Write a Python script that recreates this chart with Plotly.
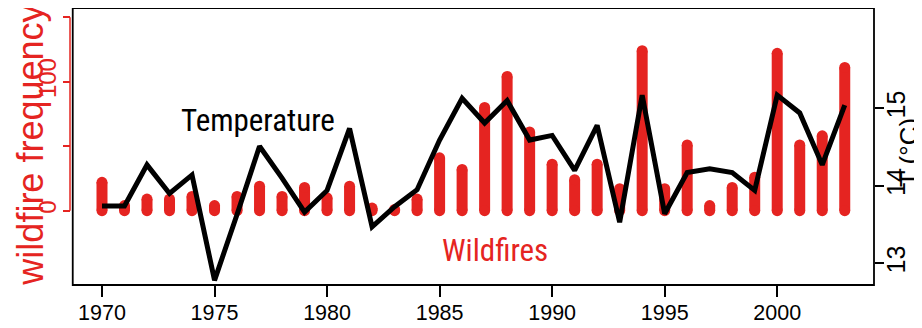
import plotly.graph_objects as go

# ---- data ----
years = list(range(1970, 2004))
wildfires = [22, 4, 9, 9, 11, 4, 11, 19, 11, 18,
             10, 19, 2, 1, 9, 41, 32, 80, 104, 61,
             36, 24, 36, 17, 124, 17, 51, 4, 18, 26,
             122, 51, 58, 111]
temperature = [13.74, 13.74, 14.27, 13.90, 14.14, 12.78, 13.63, 14.51, 14.10, 13.66,
               13.94, 14.74, 13.47, 13.73, 13.95, 14.59, 15.13, 14.81, 15.10, 14.59,
               14.65, 14.20, 14.78, 13.53, 15.17, 13.64, 14.17, 14.22, 14.17, 13.94,
               15.17, 14.94, 14.27, 15.04]
x_ticks = [1970, 1975, 1980, 1985, 1990, 1995, 2000]
left_ticks = [0, 50, 100, 150]
left_ticktext = ["0", "", "100", ""]
right_ticks = [13, 14, 15]

RED = "#E52421"
NARROW = "Liberation Sans Narrow, Arial Narrow, Roboto Condensed, DejaVu Sans Condensed, Liberation Sans, sans-serif"
REG = "Liberation Sans, Arial, Helvetica, sans-serif"

# vertical "h"-type bars built from the data
bx, by = [], []
for yr, v in zip(years, wildfires):
    bx += [yr, yr, None]
    by += [0, v, None]

fig = go.Figure()
fig.add_trace(go.Scatter(
    x=bx, y=by, mode="lines+markers", yaxis="y",
    line=dict(color=RED, width=11), marker=dict(color=RED, size=11),
    hoverinfo="skip", name="Wildfires"))
fig.add_trace(go.Scatter(
    x=years, y=temperature, mode="lines", yaxis="y2",
    line=dict(color="black", width=5), name="Temperature"))

# page body adds an 8px offset, so the figure is 8px smaller in each direction
fig.update_layout(
    width=914, height=320,
    margin=dict(l=62, r=48, t=0, b=43, autoexpand=False),
    paper_bgcolor="white", plot_bgcolor="white",
    showlegend=False,
    xaxis=dict(range=[1968.7, 2004.3], domain=[0.0034, 1], automargin=False,
               tickvals=x_ticks, ticks="outside", ticklen=11, tickwidth=1.5,
               tickcolor="black", showline=False, showgrid=False, zeroline=False,
               ticklabelstandoff=-3,
               tickfont=dict(family=REG, size=21.5, color="black")),
    yaxis=dict(range=[-57.6, 157.1], anchor="free", position=0, automargin=False,
               tickvals=left_ticks, ticktext=left_ticktext,
               ticks="outside", ticklen=7, tickwidth=1.5, tickcolor=RED,
               tickangle=-90, ticklabelstandoff=-3,
               showline=False, showgrid=False, zeroline=False,
               tickfont=dict(family=REG, size=24, color=RED)),
    yaxis2=dict(range=[12.72, 16.294], overlaying="y", side="right", anchor="x",
                automargin=False,
                tickvals=right_ticks, ticks="outside", ticklen=9, tickwidth=1.5,
                tickcolor="black", tickangle=-90, ticklabelstandoff=-9,
                showline=False, showgrid=False,
                zeroline=False, tickfont=dict(family=REG, size=25, color="black")),
    shapes=[
        dict(type="rect", xref="x domain", yref="y domain", x0=0, x1=1, y0=0, y1=1,
             line=dict(color="black", width=1.8), layer="above"),
        dict(type="line", xref="paper", yref="y", x0=0, x1=0,
             y0=min(left_ticks), y1=max(left_ticks), line=dict(color=RED, width=1.5)),
    ],
    annotations=[
        dict(text="Temperature", x=1976.95, y=70, xref="x", yref="y", showarrow=False,
             font=dict(family=NARROW, size=31, color="black")),
        dict(text="Wildfires", x=1987.45, y=-30.5, xref="x", yref="y", showarrow=False,
             font=dict(family=NARROW, size=31, color=RED)),
        dict(text="wildfire frequency", x=-0.0491, y=0.505, xref="paper", yref="paper",
             textangle=-90, showarrow=False, xanchor="center", yanchor="middle",
             font=dict(family=REG, size=36, color=RED)),
        dict(text="T (°C)", x=1.0435, y=0.480, xref="paper", yref="paper",
             textangle=-90, showarrow=False, xanchor="center", yanchor="middle",
             font=dict(family=REG, size=26, color="black")),
    ],
)

fig.write_html("out.html")
